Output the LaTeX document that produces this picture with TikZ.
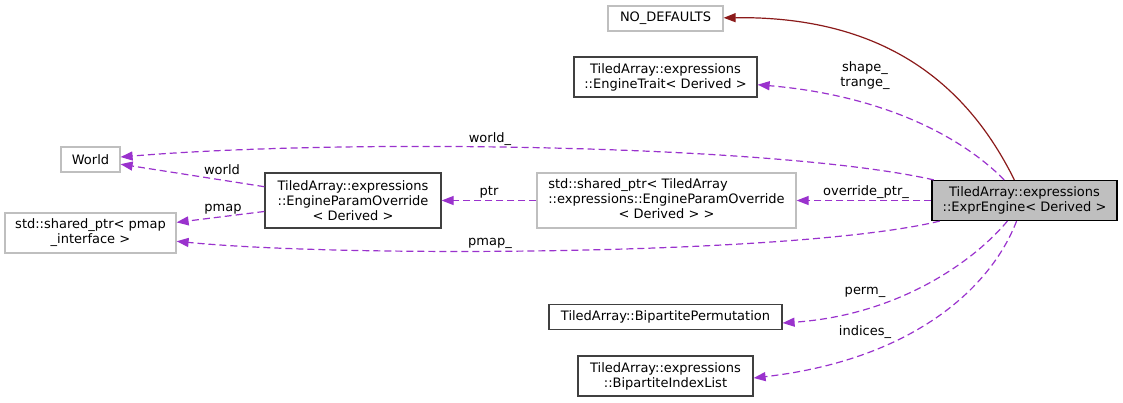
\documentclass[tikz,border=0pt]{standalone}
\usepackage{fontspec}
\setmainfont{DejaVu Sans}
\usetikzlibrary{arrows.meta}
\definecolor{usecol}{HTML}{9A32CD}
\definecolor{privcol}{HTML}{8B1A1A}
\definecolor{extcol}{HTML}{BFBFBF}
\definecolor{boxcol}{HTML}{404040}
\begin{document}
\begin{tikzpicture}[x=1pt,y=-1pt,
  font=\fontsize{13}{15}\selectfont,
  box/.style 2 args={draw=boxcol,line width=1.2pt,inner sep=0pt,align=center,
    minimum width=#1,minimum height=#2},
  extbox/.style 2 args={box={#1}{#2},draw=extcol},
  mainbox/.style 2 args={box={#1}{#2},draw=black,fill=extcol},
  usedep/.style={draw=usecol,line width=1.2pt,dash pattern=on 7pt off 4pt,
    -{Triangle[length=12pt,width=9pt]}},
  privinh/.style={draw=privcol,line width=1.2pt,-{Triangle[length=12pt,width=9pt]}},
  lbl/.style={inner sep=0pt,align=center}]
\useasboundingbox (0,0) rectangle (1123,402);
\node[extbox={115}{25}] (v0) at (665.5,18.5) {NO\_DEFAULTS};
\node[box={183}{40}] (v1) at (665.5,77) {TiledArray::expressions\\::EngineTrait< Derived >};
\node[extbox={59}{25}] (v2) at (90.5,159.5) {World};
\node[extbox={171}{40}] (v3) at (90.5,233) {std::shared\_ptr< pmap\\\_interface >};
\node[box={176}{55}] (v4) at (353,200.5) {TiledArray::expressions\\::EngineParamOverride\\< Derived >};
\node[extbox={259}{55}] (v5) at (666.5,200.5) {\begin{tabular}{@{}l@{}}std::shared\_ptr< TiledArray\\::expressions::EngineParamOverride\\\multicolumn{1}{@{}c@{}}{< Derived > >}\end{tabular}};
\node[box={233}{25}] (v6) at (665.5,317) {TiledArray::BipartitePermutation};
\node[box={175}{40}] (v7) at (665.5,376) {TiledArray::expressions\\::BipartiteIndexList};
\node[mainbox={185}{40}] (v8) at (1024.5,200.5) {TiledArray::expressions\\::ExprEngine< Derived >};
\node[lbl] (l0) at (865,76) {shape\_\\trange\_};
\node[lbl] (l1) at (490,139) {world\_};
\node[lbl] (l2) at (866,192) {override\_ptr\_};
\node[lbl] (l3) at (490,243) {pmap\_};
\node[lbl] (l4) at (865,292) {perm\_};
\node[lbl] (l5) at (865,332) {indices\_};
\node[lbl] (l6) at (489,192) {ptr};
\node[lbl] (l7) at (222,170) {world};
\node[lbl] (l8) at (223,209) {pmap};
\draw [privinh] (v8) .. controls (965,80) and (880,16) .. (v0);
\draw [usedep] (v8) .. controls (960,135) and (880,95) .. (v1);
\draw [usedep] (v8) .. controls (780,145) and (350,138) .. (v2);
\draw [usedep] (v8) .. controls (800,255) and (350,258) .. (v3);
\draw [usedep] (v8) -- (v5);
\draw [usedep] (v8) .. controls (975,260) and (900,315) .. ([yshift=-6pt]v6.east);
\draw [usedep] (v8) .. controls (990,290) and (910,360) .. ([yshift=-2pt]v7.east);
\draw [usedep] (v5) -- (v4);
\draw [usedep] (v4) -- (v2);
\draw [usedep] (v4) -- (v3);
\end{tikzpicture}
\end{document}
